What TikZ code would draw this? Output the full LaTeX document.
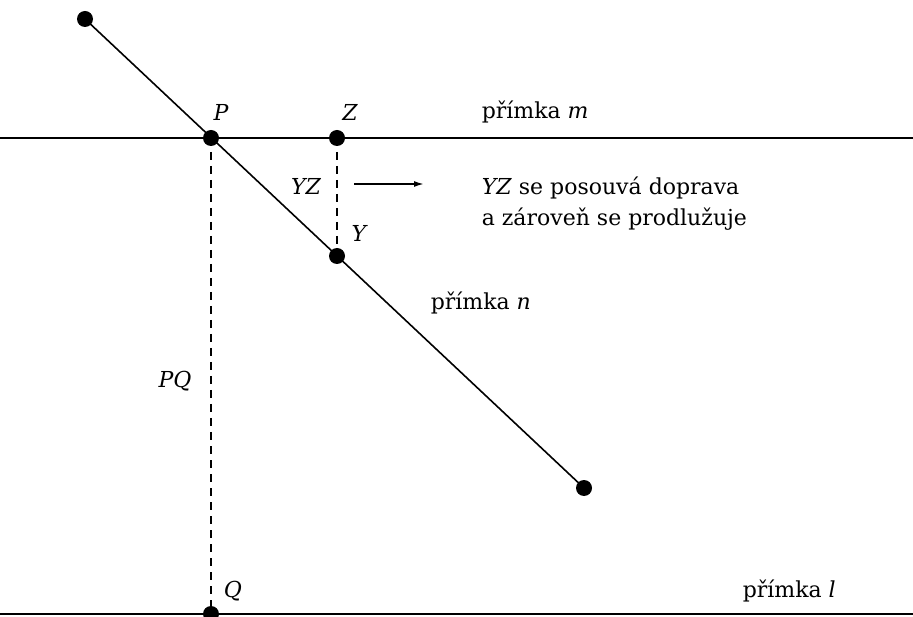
\documentclass[tikz,border=0pt]{standalone}
\usepackage{fontspec}
\setmainfont{DejaVu Serif}
\usetikzlibrary{arrows.meta}
\tikzset{
  bod/.style={circle, fill=black, inner sep=0pt, minimum size=16pt},
  popis/.style={inner sep=0pt, font=\fontsize{22}{31}\selectfont}
}
\begin{document}
\begin{tikzpicture}[x=1pt, y=-1pt, line width=1.6pt]
            \useasboundingbox (0,0) rectangle (913,617);

            % Points
            \node[bod] (a) at (85, 19) {};
            \node[bod] (p) at (211, 138) {};
            \node[bod] (z) at (337, 138) {};
            \node[bod] (y) at (337, 256) {};
            \node[bod] (b) at (584, 488) {};
            \node[bod] (q) at (211, 614) {};

            % Lines m, l
            \coordinate (m1) at (0, 138);
            \coordinate (m2) at (913, 138);
            \coordinate (l1) at (0, 614);
            \coordinate (l2) at (913, 614);
            \draw (m1) -- (m2);
            \draw (l1) -- (l2);

            % Line n
            \draw (a.center) -- (b.center);

            % Segments
            \draw[dashed, dash pattern=on 8pt off 6pt] (p.center) -- (q.center);
            \draw[dashed, dash pattern=on 8pt off 6pt] (z.center) -- (y.center);

            % Arrow
            \coordinate (s1) at (354, 184);
            \coordinate (s2) at (424, 184);
            \draw[-{Latex[length=10pt, width=6pt]}] (s1) -- (s2);

            % Labels
            \node[popis] (lp) at (221, 112) {\itshape P};
            \node[popis] (lz) at (350, 112) {\itshape Z};
            \node[popis] (lyz) at (306, 186) {\itshape YZ};
            \node[popis] (ly) at (359, 233) {\itshape Y};
            \node[popis] (lq) at (233, 591) {\itshape Q};
            \node[popis] (lpq) at (175, 381) {\itshape PQ};
            \node[popis, anchor=west] (lm) at (481, 112) {přímka \textit{m}};
            \node[popis, anchor=west] (ln) at (430, 303) {přímka \textit{n}};
            \node[popis, anchor=west] (ll) at (742, 591) {přímka \textit{l}};
            \node[popis, anchor=west, align=left] (txt) at (481, 204)
                {\textit{YZ} se posouvá doprava\\a zároveň se prodlužuje};

        \end{tikzpicture}
\end{document}
